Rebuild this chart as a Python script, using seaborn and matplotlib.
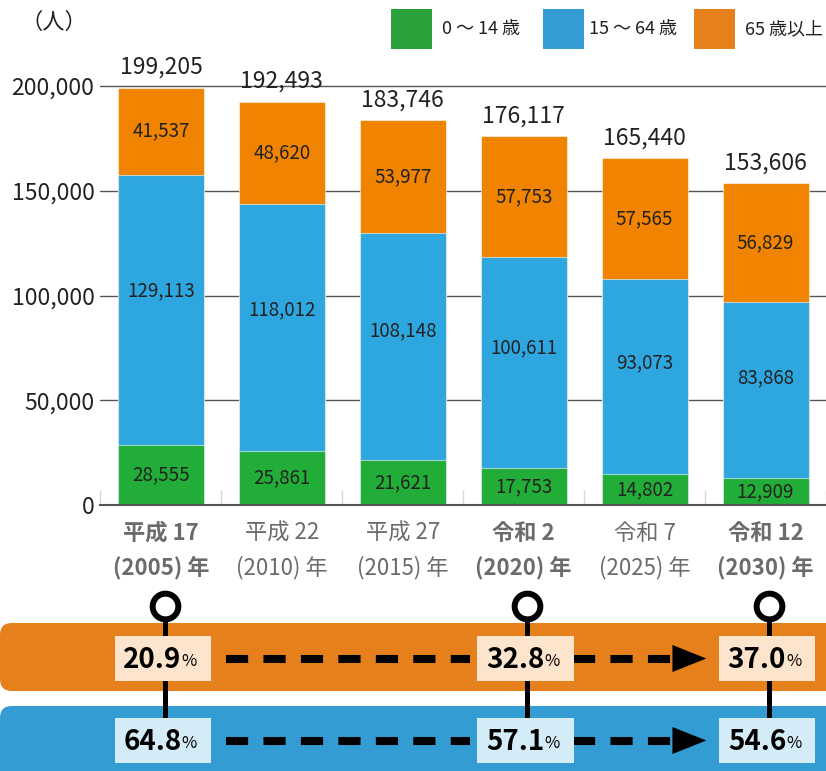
import numpy as np
import pandas as pd
import seaborn as sns
import matplotlib.pyplot as plt
import matplotlib.transforms as mtransforms
from matplotlib.patches import FancyBboxPatch, Rectangle, Polygon
from matplotlib.ticker import FuncFormatter

# data
era = ['平成 17', '平成 22', '平成 27', '令和 2', '令和 7', '令和 12']
year = ['(2005)', '(2010)', '(2015)', '(2020)', '(2025)', '(2030)']
bold_idx = [0, 3, 5]
young = [28555, 25861, 21621, 17753, 14802, 12909]
working = [129113, 118012, 108148, 100611, 93073, 83868]
old = [41537, 48620, 53977, 57753, 57565, 56829]

share_idx = [0, 3, 5]
old_share = [20.9, 32.8, 37.0]
working_share = [64.8, 57.1, 54.6]

legend_labels = ['0 〜 14 歳', '15 〜 64 歳', '65 歳以上']

df = pd.DataFrame({
    'label': [f'{e}\n{y} 年' for e, y in zip(era, year)],
    'young': young, 'working': working, 'old': old,
})
df['mid'] = df['young'] + df['working']
df['total'] = df['mid'] + df['old']

# colours
c_green, c_blue, c_orange = '#22AC38', '#2EA7E0', '#F08300'
l_green, l_blue, l_orange = '#2CA23A', '#339CD3', '#E6801C'
box_orange, box_blue = '#FCE4CD', '#D4EBF8'

sns.set_theme(style='white')
plt.rcParams['font.family'] = ['Noto Sans CJK JP', 'DejaVu Sans']

W, H = 826, 771
fig = plt.figure(figsize=(W / 100, H / 100), dpi=100)
ax = fig.add_axes([100 / W, 1 - 505 / H, 726 / W, 465 / H])

bw = 0.711
edge = (1, 1, 1, 0.55)
for col, c in [('total', c_orange), ('mid', c_blue), ('young', c_green)]:
    sns.barplot(data=df, x='label', y=col, color=c, saturation=1, width=bw,
                edgecolor=edge, linewidth=0.8, ax=ax)

ax.set_xlim(-0.504, 5.384)
ax.set_ylim(0, 465 / 419 * 200000)
ax.set_xlabel('')
ax.set_ylabel('')

# y axis
ax.set_yticks(np.arange(0, 200001, 50000))
ax.yaxis.set_major_formatter(FuncFormatter(lambda v, p: f'{int(v):,}'))
ax.tick_params(axis='y', length=0, pad=4, labelsize=16.5, labelcolor='#222222')
ax.yaxis.grid(True, color='#555555', lw=1)
ax.set_axisbelow(True)

# x axis
ax.set_xticks(range(len(df)))
ax.set_xticklabels(df['label'], linespacing=1.6)
ax.tick_params(axis='x', which='major', length=0, pad=12, labelsize=16,
               labelcolor='#6b6b6b')
for i, t in enumerate(ax.get_xticklabels()):
    if i in bold_idx:
        t.set_fontweight('bold')
ax.set_xticks(np.arange(-0.5, len(df), 1), minor=True)
ax.tick_params(axis='x', which='minor', bottom=True, direction='in', length=11,
               color='#d9d9d9', width=1)

for s in ['top', 'right', 'left']:
    ax.spines[s].set_visible(False)
ax.spines['bottom'].set_color('#555555')
ax.spines['bottom'].set_linewidth(1.5)

# value labels
for i, r in df.iterrows():
    ax.text(i, r['young'] / 2, f"{r['young']:,}", ha='center', va='center',
            fontsize=13.5, color='#222222')
    ax.text(i, r['young'] + r['working'] * 0.57, f"{r['working']:,}", ha='center',
            va='center', fontsize=13.5, color='#222222')
    ax.text(i, r['mid'] + r['old'] / 2, f"{r['old']:,}", ha='center', va='center',
            fontsize=13.5, color='#222222')
    ax.annotate(f"{r['total']:,}", (i, r['total']), xytext=(0, 14.5),
                textcoords='offset points', ha='center', va='center',
                fontsize=16.5, color='#222222')

# overlay in pixel units
ax2 = fig.add_axes([0, 0, 1, 1], zorder=5)
ax2.set_xlim(0, W)
ax2.set_ylim(H, 0)
ax2.axis('off')
ax2.patch.set_alpha(0)
blend = mtransforms.blended_transform_factory(ax.transData, ax2.transData)

ax2.text(54, 22, '（人）', ha='center', va='center', fontsize=16, color='#222222')

# legend
for x0, tx, c, lab in zip([391, 543, 694], [442, 589, 745],
                          [l_green, l_blue, l_orange], legend_labels):
    ax2.add_patch(Rectangle((x0, 9), 41, 40, color=c, lw=0))
    ax2.text(tx, 29, lab, ha='left', va='center', fontsize=13, color='#222222')

# share bands
ax2.add_patch(FancyBboxPatch((0, 623), 880, 68, boxstyle='round,pad=0,rounding_size=12',
                             fc=l_orange, ec='none', zorder=1))
ax2.add_patch(FancyBboxPatch((0, 706), 880, 90, boxstyle='round,pad=0,rounding_size=12',
                             fc=l_blue, ec='none', zorder=1))

for i in share_idx:
    ax2.plot([i + 0.03, i + 0.03], [615, 735], color='black', lw=3.6, transform=blend,
             zorder=2, solid_capstyle='butt')
    ax2.plot([i + 0.03], [606], marker='o', ms=18.5, mfc='white', mec='black', mew=4.3,
             transform=blend, zorder=4)

bx = 0.795
for shares, yc, fc in [(old_share, 658.5, box_orange), (working_share, 740.5, box_blue)]:
    a, b, c = share_idx
    ax2.plot([a + 0.535, b - 0.44], [yc, yc], color='black', lw=5.8,
             dashes=(2.75, 1.9), transform=blend, zorder=2)
    ax2.plot([b + 0.41, c - 0.77], [yc, yc], color='black', lw=5.8,
             dashes=(2.75, 1.9), transform=blend, zorder=2)
    ax2.add_patch(Polygon([(c - 0.77, yc - 13.5), (c - 0.49, yc), (c - 0.77, yc + 13.5)],
                          closed=True, fc='black', ec='none', transform=blend, zorder=3))
    for i, v in zip(share_idx, shares):
        ax2.add_patch(Rectangle((i + 0.015 - bx / 2, yc - 22.5), bx, 45, fc=fc, ec='none',
                                transform=blend, zorder=3))
        ax2.text(i + 0.17, yc + 1, f'{v:.1f}', ha='right', va='center', fontsize=20,
                 fontweight='bold', color='black', transform=blend, zorder=4)
        ax2.text(i + 0.172, yc + 3, '%', ha='left', va='center', fontsize=12,
                 color='black', transform=blend, zorder=4)

fig.savefig('out.png', dpi=100, facecolor='white')
